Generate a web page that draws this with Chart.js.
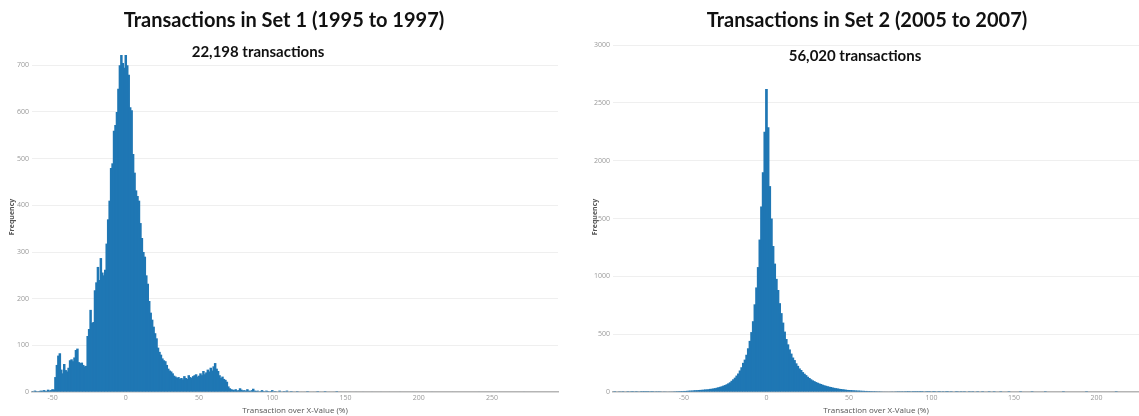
<!DOCTYPE html>
<html><head><meta charset="utf-8">
<script src="https://cdn.jsdelivr.net/npm/chart.js@4.4.1/dist/chart.umd.min.js"></script>
<style>
body{margin:0;background:#fff;width:1139px;height:416px;overflow:hidden;position:relative;font-family:Lato,sans-serif}
canvas{position:absolute;top:0}
.t{position:absolute;font-weight:bold;color:#111;text-align:center;white-space:nowrap;font-family:Lato,sans-serif}
</style></head><body>
<canvas id="c1" width="565" height="416" style="left:0"></canvas>
<canvas id="c2" width="564" height="416" style="left:575px"></canvas>
<div class="t" style="left:84px;width:400px;top:7px;font-size:20px">Transactions in Set 1 (1995 to 1997)</div>
<div class="t" style="left:158px;width:200px;top:42px;font-size:15px">22,198 transactions</div>
<div class="t" style="left:667px;width:400px;top:7px;font-size:20px">Transactions in Set 2 (2005 to 2007)</div>
<div class="t" style="left:755px;width:200px;top:46px;font-size:15px">56,020 transactions</div>
<script>
// Set 1: counts per 1% bin, first bin at -64
const set1BinStart = -64;
const set1Counts = [
 2,1,3,2,1,2,3,2,4,3,2,5,3,4,6,5,
 32,58,78,83,48,40,60,47,44,52,
 68,70,66,74,90,93,64,62,63,58,
 55,56,120,135,176,148,150,218,235,268,
 240,287,256,250,262,318,370,410,480,490,
 560,572,600,650,700,722,705,695,722,700,
 680,610,604,510,470,432,420,410,362,330,
 300,290,250,232,195,170,155,140,126,115,
 95,86,80,72,68,66,58,50,46,44,
 40,35,33,30,32,28,30,27,34,30,
 28,36,32,30,34,36,38,33,35,40,
 36,45,38,42,48,44,52,46,55,62,
 50,45,36,30,33,28,26,22,12,8,
 6,5,4,6,3,4,8,5,3,4,
 2,6,3,2,4,7,3,2,3,1,
 2,4,2,1,3,2,1,2,4,1,
 2,1,0,3,1,0,2,1,3,0,
 1,2,0,1,0,2,1,0,1,0,
 1,0,2,1,0,0,1,0,1,2,
 0,1,0,0,2,1,0,1,0,0,
 1,0,2,0,0,1,0,0,1,0,
 0,1,0,0,0,1,0,0,0,0,
 1,0,0,0,0,0,1,0,0,0,
 0,0,1,0,0,0,0,0,1,0,
 0,0,0,0,0,1,0,0,0,0,
 0,0,0,0,1,0,0,0,0,0,
 0,0,0,0,0,0,0,1,0,0,
 0,0,0,0,0,0,0,0,0,0,
 0,1,0,0,0,0,0,0,0,0,
 0,0,0,0,0,0,0,0,0,1,
 0,0,0,0,0,0,0,0,0,0,
 0,0,0,1,0,0,0,0,0,0,
 0,0,0,0,0,0,0,0,0,0,
 1,0,0,0,0,0,0,0,0,0
];
// Set 2: counts per 1% bin, first bin at -93
const set2BinStart = -93;
const set2Counts = [
 0,1,0,0,2,0,1,0,0,1,
 0,2,1,0,1,3,0,1,2,1,
 2,1,3,2,1,4,2,3,2,3,
 4,3,5,
 4,5,5,5,6,6,7,7,8,8,9,9,
 10,11,12,12,14,15,15,17,18,19,
 20,22,22,24,27,28,31,33,37,41,
 45,49,55,60,67,75,84,97,110,124,
 142,160,186,214,252,280,322,378,442,518,
 612,758,904,1080,1318,1604,1900,2250,
 2620,
 2290,1780,1500,1262,1110,978,882,768,682,600,
 522,458,412,368,332,298,276,248,226,204,
 190,172,158,146,132,121,110,101,94,86,
 80,74,69,63,58,54,50,46,43,39,
 36,33,31,28,26,24,22,20,
 18,17,16,15,14,13,12,12,11,10,10,9,9,8,8,7,7,7,6,6,6,5,
 5,4,5,4,4,3,4,3,3,2,
 3,2,3,2,2,1,2,3,1,2,
 1,2,1,1,2,0,1,2,1,0,
 1,1,0,2,1,0,1,0,1,1,
 0,1,0,0,1,2,0,1,0,1,
 0,0,1,0,1,0,0,1,0,0,
 1,0,0,0,1,0,0,1,0,0,
 0,1,0,0,0,0,1,0,0,0,
 0,0,0,1,0,0,0,0,0,0,
 1,0,0,0,0,0,0,0,1,0,
 0,0,0,0,0,0,0,0,0,1,
 0,0,0,0,0,0,0,0,0,0,
 0,0,0,1,0,0,0,0,0,0,
 0,0,0,0,0,0,0,0,0,0,
 0,1,0,0,0,0,0,0,0,0,
 0,0,0,0,0,0
];
const set1XTicks = [-50, 0, 50, 100, 150, 200, 250];
const set1YTicks = [0, 100, 200, 300, 400, 500, 600, 700];
const set2XTicks = [-50, 0, 50, 100, 150, 200];
const set2YTicks = [0, 500, 1000, 1500, 2000, 2500, 3000];
const xTitle = 'Transaction over X-Value (%)';
const yTitle = 'Frequency';

function makeChart(id, start, counts, xmin, xmax, ymax, xTicks, yTicks, yWidth, yTitlePad, rightPad, thick) {
  const pts = counts.map((v, i) => ({x: start + i, y: v}));
  return new Chart(document.getElementById(id), {
    type: 'bar',
    data: {datasets: [{data: pts, backgroundColor: '#1f77b4', borderWidth: 0,
      barThickness: thick, inflateAmount: 0}]},
    options: {
      responsive: false, animation: false, devicePixelRatio: 1,
      layout: {padding: {top: 42, right: rightPad, left: 0, bottom: 0}},
      plugins: {legend: {display: false}, tooltip: {enabled: false}},
      scales: {
        x: {type: 'linear', min: xmin, max: xmax, offset: false,
          afterBuildTicks: s => { s.ticks = xTicks.map(v => ({value: v})); },
          afterFit: s => { s.height = 24; },
          ticks: {font: {size: 7, family: 'Open Sans'}, color: '#999', padding: 2, maxRotation: 0, autoSkip: false,
            callback: v => String(v)},
          grid: {display: false, drawTicks: false},
          border: {display: true, color: '#b5b5b5', width: 1.5},
          title: {display: true, text: xTitle, font: {size: 8, family: 'Open Sans'}, color: '#555', padding: {top: 0, bottom: 0}}
        },
        y: {min: 0, max: ymax,
          afterBuildTicks: s => { s.ticks = yTicks.map(v => ({value: v})); },
          afterFit: s => { s.width = yWidth; },
          ticks: {font: {size: 7, family: 'Open Sans'}, color: '#999', padding: 3,
            callback: v => String(v)},
          grid: {color: c => (c.tick && c.tick.value === 0) ? 'rgba(0,0,0,0)' : '#efefef', drawTicks: false},
          border: {display: false},
          title: {display: true, text: yTitle, font: {size: 7, weight: 'bold', family: 'Open Sans'}, color: '#555', padding: {top: yTitlePad, bottom: 0}}
        }
      }
    }
  });
}
makeChart('c1', set1BinStart, set1Counts, -64, 295, 750, set1XTicks, set1YTicks, 32, 8, 7, 2.5);
makeChart('c2', set2BinStart, set2Counts, -93, 225.8, 3026, set2XTicks, set2YTicks, 38, 16, 0, 2.7);
</script>
</body></html>
